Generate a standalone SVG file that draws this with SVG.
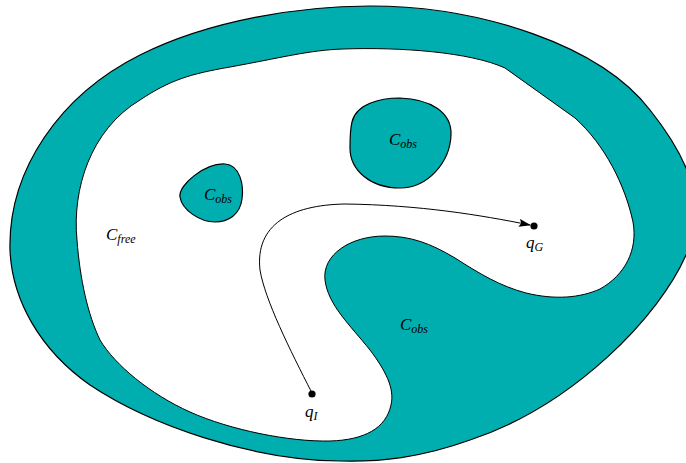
<svg xmlns="http://www.w3.org/2000/svg" width="686" height="463" viewBox="0 0 686 463">
<style>
.obs{fill:#00AEAF;stroke:#000;stroke-width:1.2;stroke-linejoin:round}
.free{fill:#fff;stroke:#000;stroke-width:1;stroke-linejoin:round}
.m{font-family:"Liberation Serif","DejaVu Serif",serif;font-style:italic;font-size:17px;fill:#000}
.sub{font-size:12px}
.path{fill:none;stroke:#000;stroke-width:1}
</style>
<defs>
<marker id="ah" viewBox="0 0 12 8" refX="11" refY="4" markerWidth="12" markerHeight="8" markerUnits="userSpaceOnUse" orient="auto">
<path d="M0,0 L12,4 L0,8 L2,4 Z" fill="#000"/>
</marker>
</defs>
<g id="outer">
<path class="obs" d="M 10,250 C 8,170 60,95 140,55 C 210,20 300,6 370,6 C 480,6 600,45 650,110 C 690,160 712,215 686,255 C 660,315 575,405 470,440 C 420,458 380,462 340,461 C 250,460 150,425 90,385 C 40,350 12,300 10,250 Z"/>
</g>
<g id="free">
<path class="free" d="M 77,240 C 72,190 90,130 140,100 C 170,80 190,74 230,67 C 280,58 310,50 343,49 C 400,47 470,52 505,68 L 575,118 C 605,145 625,185 633,222 C 638,250 625,275 600,289 C 580,298 555,300 526,293 C 500,286 480,274 455,258 C 430,243 410,236 385,236 C 350,236 322,255 325,280 C 328,305 350,325 370,350 C 385,370 395,388 391,405 C 386,428 365,440 330,441 C 290,442 230,430 190,412 C 150,394 115,365 100,340 C 88,315 80,280 77,240 Z"/>
</g>
<g id="obs1">
<path class="obs" d="M 180,197 C 178,185 205,163 225,164 C 240,165 244,185 242,199 C 240,215 228,222 215,222 C 200,222 182,210 180,197 Z"/>
<text class="m" x="204" y="200">C<tspan class="sub" dy="3">obs</tspan></text>
</g>
<g id="obs2">
<path class="obs" d="M 352,122 C 356,104 380,98 400,98 C 430,99 452,112 451,135 C 450,162 428,188 400,188 C 370,188 350,170 350,148 C 350,138 350,130 352,122 Z"/>
<text class="m" x="389" y="145">C<tspan class="sub" dy="3">obs</tspan></text>
</g>
<g id="obs3">
<text class="m" x="400" y="330">C<tspan class="sub" dy="3">obs</tspan></text>
</g>
<g id="cfree">
<text class="m" x="106" y="240">C<tspan class="sub" dy="3">free</tspan></text>
</g>
<g id="connectors">
<path class="path" marker-end="url(#ah)" d="M 312,393 C 290,350 265,300 260,270 C 255,225 290,205 345,204 C 420,205 480,215 530,225"/>
</g>
<g id="qI">
<circle cx="312" cy="394" r="3.6" fill="#000"/>
<text class="m" x="305" y="417">q<tspan class="sub" dy="3">I</tspan></text>
</g>
<g id="qG">
<circle cx="534" cy="226" r="3.6" fill="#000"/>
<text class="m" x="526" y="248">q<tspan class="sub" dy="3">G</tspan></text>
</g>
</svg>
